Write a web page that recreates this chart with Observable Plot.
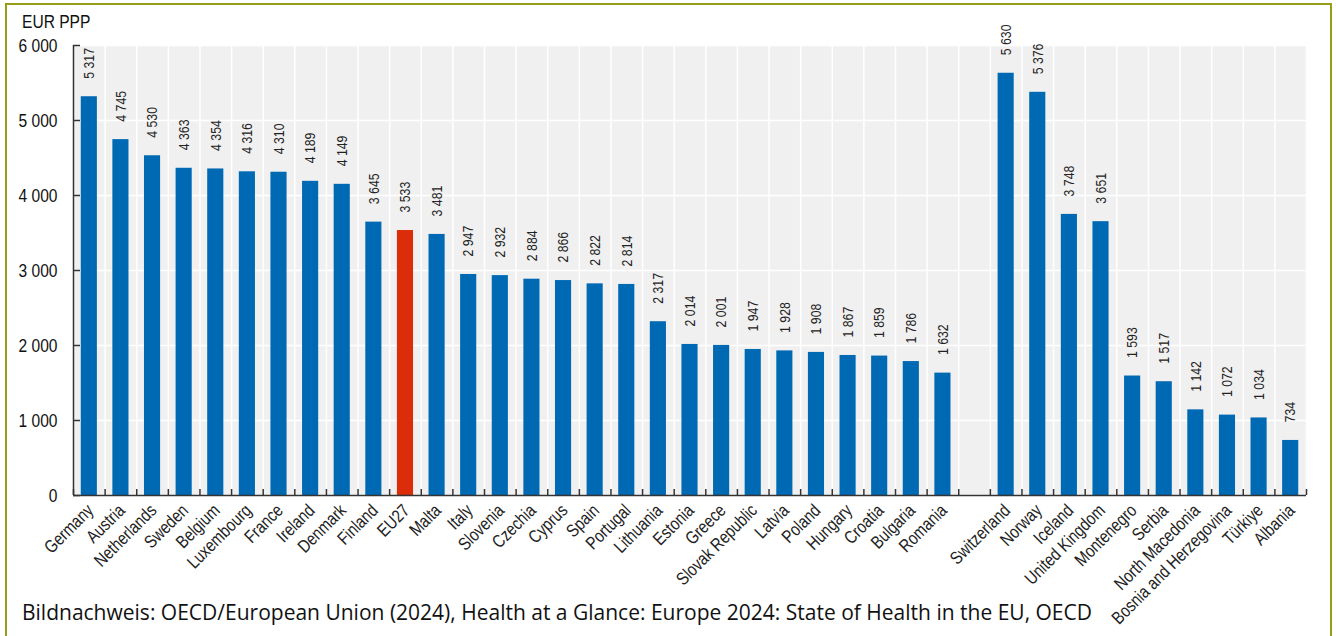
<!DOCTYPE html>
<html>
<head>
<meta charset="utf-8">
<script src="https://cdn.jsdelivr.net/npm/d3@7"></script>
<script src="https://cdn.jsdelivr.net/npm/@observablehq/plot@0.6"></script>
<style>
  html, body { margin: 0; padding: 0; background: #fff; }
  #wrap { position: relative; width: 1336px; height: 636px; overflow: hidden; background: #fff; }
  #border { position: absolute; left: 5px; top: 3px; width: 1327px; height: 700px; border: 2px solid #979d16; box-sizing: border-box; }
  #unit { position: absolute; left: 22px; top: 12px; font: 19px "Liberation Sans", Arial, sans-serif; line-height: 1; color: #111; transform: scaleX(0.82); transform-origin: left top; }
  #chart { position: absolute; left: 0; top: 0; }
  #caption { position: absolute; left: 22px; top: 602px; font: 21px "Open Sans", sans-serif; line-height: 1; color: #111; white-space: nowrap; }
</style>
</head>
<body>
<div id="wrap">
  <div id="border"></div>
  <div id="chart"></div>
  <div id="unit">EUR PPP</div>
  <div id="caption">Bildnachweis: OECD/European Union (2024), Health at a Glance: Europe 2024: State of Health in the EU, OECD</div>
</div>
<script>
const euCountries = ["Germany","Austria","Netherlands","Sweden","Belgium","Luxembourg","France","Ireland","Denmark","Finland","EU27","Malta","Italy","Slovenia","Czechia","Cyprus","Spain","Portugal","Lithuania","Estonia","Greece","Slovak Republic","Latvia","Poland","Hungary","Croatia","Bulgaria","Romania"];
const euValues = [5317,4745,4530,4363,4354,4316,4310,4189,4149,3645,3533,3481,2947,2932,2884,2866,2822,2814,2317,2014,2001,1947,1928,1908,1867,1859,1786,1632];
const otherCountries = ["Switzerland","Norway","Iceland","United Kingdom","Montenegro","Serbia","North Macedonia","Bosnia and Herzegovina","Türkiye","Albania"];
const otherValues = [5630,5376,3748,3651,1593,1517,1142,1072,1034,734];
const highlight = "EU27";
const yTicks = [0,1000,2000,3000,4000,5000,6000];

const blue = "#0069b4";
const red = "#dc2d0a";
const axisColor = "#333";
const sans = '"Liberation Sans", Arial, sans-serif';
const narrowScale = 0.82;

const rows = [];
euCountries.forEach((c, j) => rows.push({country: c, value: euValues[j], i: j}));
otherCountries.forEach((c, j) => rows.push({country: c, value: otherValues[j], i: euCountries.length + 1 + j}));
const nSlots = euCountries.length + 1 + otherCountries.length;
const boundaries = d3.range(-0.5, nSlots, 1);

const fmt = v => d3.format(",")(v).replace(/,/g, " ");

const W = 1336, H = 600, mL = 73, mR = 30, mT = 45, mB = 105;
const plotW = W - mL - mR, plotH = H - mT - mB;
const half = 0.255;

const chart = Plot.plot({
  width: W, height: H,
  marginLeft: mL, marginRight: mR, marginTop: mT, marginBottom: mB,
  x: {domain: [-0.5, nSlots - 0.5], axis: null},
  y: {domain: [0, 6000], axis: null},
  style: {fontFamily: sans, background: "transparent", overflow: "visible", color: "#222"},
  marks: [
    Plot.frame({fill: "#f0f0f0", stroke: null}),
    Plot.ruleY(yTicks, {stroke: "#fff", strokeWidth: 1.5}),
    Plot.ruleX(boundaries, {stroke: "#fff", strokeWidth: 1.5}),
    Plot.rectY(rows, {filter: d => d.country !== highlight, x1: d => d.i - half, x2: d => d.i + half, y: "value", fill: blue}),
    Plot.rectY(rows, {filter: d => d.country === highlight, x1: d => d.i - half, x2: d => d.i + half, y: "value", fill: red}),
    Plot.text(rows, {x: "i", y: "value", text: d => fmt(d.value), rotate: -90, textAnchor: "start", lineAnchor: "middle", dy: -18, fontSize: 15, fill: "#222"}),
    Plot.ruleX([-0.5], {stroke: axisColor, strokeWidth: 1.5}),
    Plot.ruleY([0], {stroke: axisColor, strokeWidth: 1.5}),
    Plot.tickY(yTicks, {y: d => d, insetRight: plotW - 7, stroke: axisColor, strokeWidth: 1.5}),
    Plot.tickX(boundaries, {x: d => d, insetTop: plotH - 6, stroke: axisColor, strokeWidth: 1.5}),
    Plot.text(yTicks, {y: d => d, text: d => fmt(d), frameAnchor: "left", textAnchor: "end", dx: -16, fontSize: 19, fill: "#111"}),
    Plot.text(rows, {x: "i", text: "country", frameAnchor: "bottom", rotate: -45, textAnchor: "end", lineAnchor: "middle", dx: 1, dy: 12, fontSize: 18, fill: "#222"})
  ]
});
// condense glyphs horizontally to mimic a narrow typeface
d3.select(chart).selectAll("text").each(function() {
  const t = this.getAttribute("transform") || "";
  this.setAttribute("transform", t + ` scale(${narrowScale},1)`);
});
document.getElementById("chart").appendChild(chart);
</script>
</body>
</html>
